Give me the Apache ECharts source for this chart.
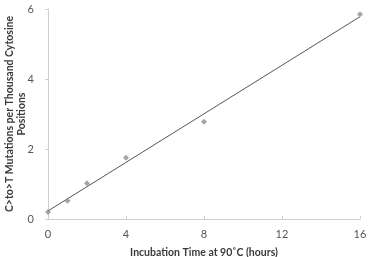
<!DOCTYPE html>
<html>
<head>
<meta charset="utf-8">
<script src="https://cdn.jsdelivr.net/npm/echarts@6/dist/echarts.min.js"></script>
<style>
  html, body { margin: 0; padding: 0; background: #fff; }
  #chart { width: 368px; height: 257px; }
</style>
</head>
<body>
<div id="chart"></div>
<script>
// measured points
var hours = [0, 1, 2, 4, 8, 16];
var mutations = [0.2, 0.52, 1.02, 1.75, 2.78, 5.85];

// trend line end points
var trendHours = [0, 16];
var trendValues = [0.23, 5.78];

var xTicks = [0, 4, 8, 12, 16];
var yTicks = [0, 2, 4, 6];

var myChart = echarts.init(document.getElementById('chart'));

var font = 'Lato, "Open Sans", sans-serif';

var option = {
    animation: false,
    grid: { left: 48, right: 8, top: 9, bottom: 38, outerBoundsMode: 'none' },
    xAxis: {
        type: 'value',
        min: xTicks[0],
        max: xTicks[xTicks.length - 1],
        interval: 4,
        name: 'Incubation Time at 90˚C (hours)',
        nameLocation: 'middle',
        nameGap: 28,
        nameMoveOverlap: false,
        nameTextStyle: { fontFamily: font, fontWeight: 'bold', fontSize: 10.5, color: '#3a3a3a' },
        axisLine: { lineStyle: { color: '#cfcfcf', width: 1 } },
        axisTick: { show: true, inside: true, length: 3, lineStyle: { color: '#cfcfcf' } },
        axisLabel: { fontFamily: font, fontSize: 11, color: '#555', margin: 10 },
        splitLine: { show: false }
    },
    yAxis: {
        type: 'value',
        min: yTicks[0],
        max: yTicks[yTicks.length - 1],
        interval: 2,
        name: 'C>to>T Mutations per Thousand Cytosine\nPositions',
        nameLocation: 'middle',
        nameRotate: 90,
        nameGap: 20,
        nameMoveOverlap: false,
        nameTextStyle: { fontFamily: font, fontWeight: 'bold', fontSize: 10.5, color: '#3a3a3a', lineHeight: 12 },
        axisLine: { show: true, lineStyle: { color: '#cfcfcf', width: 1 } },
        axisTick: { show: true, length: 3, lineStyle: { color: '#cfcfcf' } },
        axisLabel: { fontFamily: font, fontSize: 11, color: '#555', margin: 14 },
        splitLine: { show: false }
    },
    series: [{
        type: 'line',
        data: trendHours.map(function (h, i) { return [h, trendValues[i]]; }),
        symbol: 'none',
        lineStyle: { color: '#555', width: 1 },
        z: 1
    }, {
        type: 'scatter',
        data: hours.map(function (h, i) { return [h, mutations[i]]; }),
        symbol: 'diamond',
        symbolSize: 6,
        itemStyle: { color: '#8f8f8f' },
        z: 2
    }]
};

myChart.setOption(option);
</script>
</body>
</html>
